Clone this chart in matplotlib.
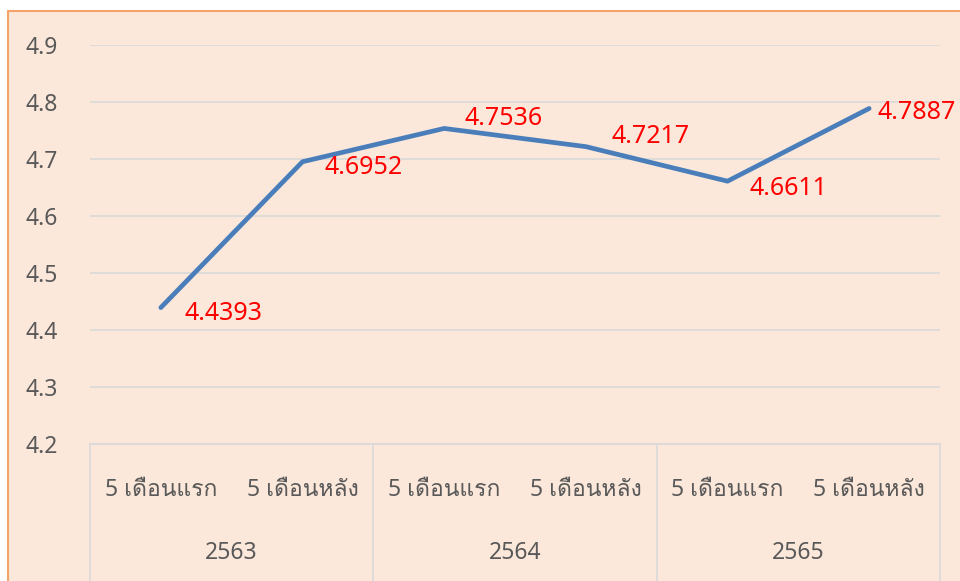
import matplotlib.pyplot as plt
from matplotlib import font_manager
from matplotlib.patches import Rectangle
from fontTools.ttLib import TTFont

# find installed families that have Thai letters
thai = []
for f in font_manager.fontManager.ttflist:
    try:
        tt = TTFont(f.fname, fontNumber=0, lazy=True)
        if 0x0E40 in tt.getBestCmap() and f.name not in thai:
            thai.append(f.name)
    except Exception:
        pass

plt.rcParams['font.family'] = ['Noto Sans'] + thai + ['DejaVu Sans']

# data
periods = ["5 เดือนแรก", "5 เดือนหลัง", "5 เดือนแรก", "5 เดือนหลัง", "5 เดือนแรก", "5 เดือนหลัง"]
years = ["2563", "2564", "2565"]
scores = [4.4393, 4.6952, 4.7536, 4.7217, 4.6611, 4.7887]
# label offsets in pixels (dx, dy)
label_offsets = [(24, -6), (22, -6), (20, 10), (26, 10), (22, -7), (8, -4)]

bg = "#FCE8DA"
grey_txt = "#595959"
grid_col = "#D9D9D9"

fig = plt.figure(figsize=(9.6, 5.81), dpi=100)
fig.patch.set_facecolor("white")
fig.patches.append(Rectangle((8 / 960, -0.1), 1.1, (581 - 11) / 581 + 0.1,
                             transform=fig.transFigure, facecolor=bg,
                             edgecolor="#F4A46A", lw=1.5, zorder=-10))

ax = fig.add_axes([90 / 960, 137 / 581, 850 / 960, 399 / 581])
ax.set_facecolor("none")
x = list(range(len(scores)))
ax.plot(x, scores, color="#4A7EBB", lw=3.4, solid_capstyle="round", zorder=3)

for xi, v, (dx, dy) in zip(x, scores, label_offsets):
    ax.annotate(f"{v:.4f}", (xi, v), xytext=(dx * 0.72, dy * 0.72),
                textcoords="offset points", color="red", fontsize=18,
                ha="left", va="center", annotation_clip=False)

ax.set_xlim(-0.5, len(scores) - 0.5)
ax.set_ylim(4.2, 4.9)
ax.set_yticks([4.2, 4.3, 4.4, 4.5, 4.6, 4.7, 4.8, 4.9])
ax.set_yticklabels([f"{t:.1f}" for t in ax.get_yticks()])
ax.yaxis.grid(True, color=grid_col, lw=1.2)
ax.set_axisbelow(True)
ax.tick_params(axis="y", length=0, pad=23, labelsize=16.5, labelcolor=grey_txt)
ax.set_xticks([])
for s in ax.spines.values():
    s.set_visible(False)

# category axis
tr = ax.get_xaxis_transform()
bottom = -137 / 399
ax.plot([-0.5, len(scores) - 0.5], [0, 0], color=grid_col, lw=1.2, transform=tr, clip_on=False)
for b in [-0.5, 1.5, 3.5, 5.5]:
    ax.plot([b, b], [0, bottom], color=grid_col, lw=1.2, transform=tr, clip_on=False)
for xi, p in zip(x, periods):
    ax.text(xi, -46 / 399, p, transform=tr, ha="center", va="center",
            fontsize=16.5, color=grey_txt)
for i, yr in enumerate(years):
    ax.text(2 * i + 0.5, -109 / 399, yr, transform=tr, ha="center", va="center",
            fontsize=16.5, color=grey_txt)

fig.savefig("out.png", dpi=100, facecolor=fig.get_facecolor())
